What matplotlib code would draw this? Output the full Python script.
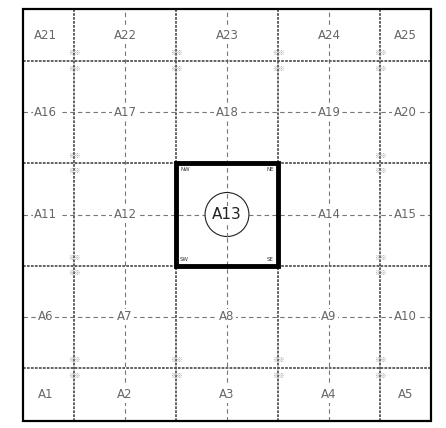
import matplotlib
matplotlib.use("Agg")
import matplotlib.pyplot as plt
from matplotlib.patches import Rectangle, Circle

# Data
grid_lines_x = [1, 2, 3, 4]
grid_lines_y = [1, 2, 3, 4]
center_lines_x = [1.5, 2.5, 3.5]
center_lines_y = [1.5, 2.5, 3.5]
col_centers = [0.725, 1.5, 2.5, 3.5, 4.25]
row_centers = [0.74, 1.5, 2.5, 3.5, 4.25]
labels = [[f"A{r*5 + c + 1}" for c in range(5)] for r in range(5)]
highlight = "A13"
highlight_box = (2, 2, 1, 1)
corner_labels = {"NW": (2.04, 2.96, "left", "top"),
                 "NE": (2.96, 2.96, "right", "top"),
                 "SW": (2.04, 2.04, "left", "bottom"),
                 "SE": (2.96, 2.04, "right", "bottom")}
frame = (0.5, 0.48, 4.0, 4.03)

fig = plt.figure(figsize=(4.46, 4.28), dpi=100)
ax = fig.add_axes([0, 0, 1, 1])
ax.set_xlim(0.275, 4.647)
ax.set_ylim(0.413, 4.597)
ax.axis("off")

x0, y0, w, h = frame
# center dashed lines
for x in center_lines_x:
    ax.plot([x, x], [y0, y0 + h], color="#777777", lw=0.8, ls=(0, (4, 3)), zorder=1)
for y in center_lines_y:
    ax.plot([x0, x0 + w], [y, y], color="#777777", lw=0.8, ls=(0, (4, 3)), zorder=1)
# grid lines
for x in grid_lines_x:
    ax.plot([x, x], [y0, y0 + h], color="#555555", lw=1.3, ls=(0, (1.5, 0.7)), zorder=2)
for y in grid_lines_y:
    ax.plot([x0, x0 + w], [y, y], color="#555555", lw=1.3, ls=(0, (1.5, 0.7)), zorder=2)

# intersection marks (faint survey tags)
for x in grid_lines_x:
    for y in grid_lines_y:
        if (x, y) in [(2, 3), (3, 3), (2, 2), (3, 2)]:
            continue
        ax.text(x, y + 0.035, "※※", fontsize=4.5, color="#999999", ha="center", va="bottom",
                family=["Noto Sans CJK SC", "DejaVu Sans"], zorder=3)
        ax.text(x, y - 0.035, "※※", fontsize=4.5, color="#999999", ha="center", va="top",
                family=["Noto Sans CJK SC", "DejaVu Sans"], zorder=3)

# outer frame
ax.add_patch(Rectangle((x0, y0), w, h, fill=False, ec="black", lw=1.6, zorder=4))

# highlight box
bx, by, bw, bh = highlight_box
ax.add_patch(Rectangle((bx, by), bw, bh, fill=False, ec="black", lw=3.5, zorder=5))
for name, (cx, cy, ha, va) in corner_labels.items():
    ax.text(cx, cy, name, fontsize=4, color="#333333", ha=ha, va=va, zorder=6)

# labels
for r, yv in enumerate(row_centers):
    for c, xv in enumerate(col_centers):
        lab = labels[r][c]
        if lab == highlight:
            ax.add_patch(Circle((xv, yv), 0.215, fill=True, fc="white", ec="#222222", lw=0.8, zorder=6))
            ax.plot([xv, xv], [yv - 0.215, yv + 0.215], color="#777777", lw=0.8, ls=(0, (4, 3)), zorder=6)
            ax.text(xv, yv, lab, fontsize=11, color="#222222", ha="center", va="center", zorder=7,
                    bbox=dict(fc="white", ec="none", pad=0.5))
        else:
            ax.text(xv, yv, lab, fontsize=8.5, color="#666666", ha="center", va="center", zorder=3,
                    bbox=dict(fc="white", ec="none", pad=1.2))

fig.savefig("out.png", dpi=100)
